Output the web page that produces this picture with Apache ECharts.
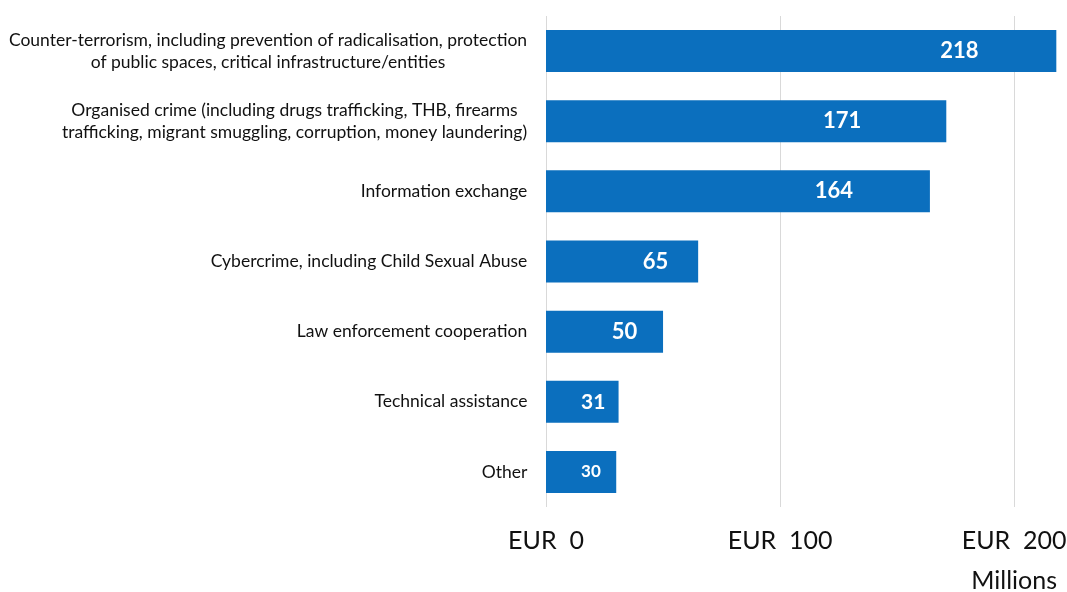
<!DOCTYPE html>
<html>
<head>
<meta charset="utf-8">
<script src="https://cdn.jsdelivr.net/npm/echarts@6/dist/echarts.min.js"></script>
<style>
  html, body { margin: 0; padding: 0; background: #ffffff; }
  #chart { width: 1067px; height: 592px; }
</style>
</head>
<body>
<div id="chart"></div>
<script>
// Funding by policy area, EUR millions
const categories = [
  'Counter-terrorism, including prevention of radicalisation, protection\nof public spaces, critical infrastructure/entities',
  'Organised crime (including drugs trafficking, THB, firearms\ntrafficking, migrant smuggling, corruption, money laundering)',
  'Information exchange',
  'Cybercrime, including Child Sexual Abuse',
  'Law enforcement cooperation',
  'Technical assistance',
  'Other'
];
const amounts = [218, 171, 164, 65, 50, 31, 30];
const tickValues = [0, 100, 200];
const tickPrefix = 'EUR  ';
const unitLabel = 'Millions';

// Styling
const FONT = 'Lato, "Open Sans", sans-serif';
const CAT_FONT_SIZE = 17.5;
const AXIS_FONT_SIZE = 25;
const BAR_COLOR = '#0b6fbe';
// horizontal placement of each value label inside its bar (fraction of bar length)
const valueLabelPos = ['81%', '74%', '75%', '72%', '67%', '65%', '64%'];
const valueLabelSize = [22, 22, 22, 22, 22, 21, 17];

// measure text so multi-line category labels can be centred within their block
const measureCtx = document.createElement('canvas').getContext('2d');
measureCtx.font = CAT_FONT_SIZE + 'px ' + FONT;
const rich = {};
categories.forEach((c, i) => {
  const lines = c.split('\n');
  const w = Math.max(...lines.map(l => measureCtx.measureText(l).width));
  rich['c' + i] = {
    width: Math.ceil(w) + 1,
    align: 'center',
    fontSize: CAT_FONT_SIZE,
    fontFamily: FONT,
    color: '#111111',
    lineHeight: 22
  };
});

const chart = echarts.init(document.getElementById('chart'), null, { renderer: 'canvas' });

const option = {
  animation: false,
  backgroundColor: '#ffffff',
  grid: {
    left: 546, top: 16, width: 515, height: 491,
    containLabel: false,
    outerBoundsMode: 'none'
  },
  xAxis: {
    type: 'value',
    min: 0,
    max: 220,
    interval: 100,
    axisLine: { show: false },
    axisTick: { show: false },
    splitLine: { show: true, showMaxLine: false, lineStyle: { color: '#d9d9d9', width: 1 } },
    axisLabel: {
      showMaxLabel: false,
      margin: 21,
      fontSize: AXIS_FONT_SIZE,
      fontFamily: FONT,
      color: '#111111',
      formatter: v => (tickValues.indexOf(v) >= 0 ? tickPrefix + v : '')
    }
  },
  yAxis: {
    type: 'category',
    inverse: true,
    data: categories,
    axisLine: { show: false },
    axisTick: { show: false },
    axisLabel: {
      margin: 18,
      fontSize: CAT_FONT_SIZE,
      fontFamily: FONT,
      color: '#111111',
      lineHeight: 22,
      formatter: (value, idx) => value.split('\n').map(l => '{c' + idx + '|' + l + '}').join('\n'),
      rich: rich
    }
  },
  series: [{
    type: 'bar',
    barWidth: 42,
    data: amounts.map((v, i) => ({
      value: v,
      label: {
        position: [valueLabelPos[i], '50%'],
        fontSize: valueLabelSize[i]
      }
    })),
    itemStyle: { color: BAR_COLOR },
    label: {
      show: true,
      align: 'center',
      verticalAlign: 'middle',
      color: '#ffffff',
      fontWeight: 'bold',
      fontFamily: FONT
    }
  }]
};

chart.setOption(option);

// unit caption under the last tick label
const unitX = chart.convertToPixel({ xAxisIndex: 0 }, tickValues[tickValues.length - 1]);
chart.setOption({
  graphic: [{
    type: 'text',
    x: unitX,
    y: 581,
    style: {
      text: unitLabel,
      fontSize: AXIS_FONT_SIZE,
      fontFamily: FONT,
      fill: '#111111',
      align: 'center',
      verticalAlign: 'middle'
    }
  }]
});
</script>
</body>
</html>
